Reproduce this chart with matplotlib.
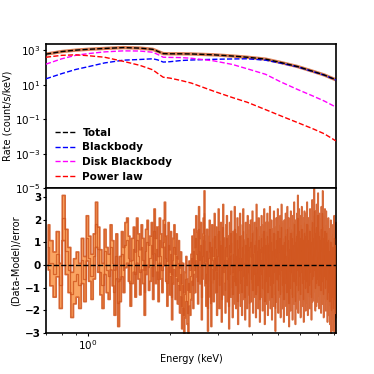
"""Spectral fit: model components (top) and residuals (bottom)."""

import numpy as np
import matplotlib
matplotlib.use("Agg")
import matplotlib.pyplot as plt
from matplotlib.ticker import FixedLocator, NullLocator

plt.rcParams["mathtext.default"] = "bf"

# model curves (log10 of count/s/keV)
E_MODEL = [0.70, 0.80, 0.90, 1.00, 1.15, 1.35, 1.55, 1.73, 1.80, 1.89, 2.00,
           2.20, 2.40, 2.90, 3.40, 3.85, 4.50, 5.10, 5.90, 6.70, 7.40, 8.16]
LOG_TOTAL = [2.77, 2.92, 3.00, 3.05, 3.10, 3.15, 3.12, 3.05, 2.94, 2.80, 2.79,
             2.79, 2.78, 2.73, 2.66, 2.59, 2.48, 2.29, 2.05, 1.78, 1.56, 1.28]
LOG_BB = [1.34, 1.64, 1.88, 2.04, 2.26, 2.42, 2.46, 2.50, 2.44, 2.31, 2.33,
          2.40, 2.43, 2.47, 2.49, 2.50, 2.42, 2.25, 2.03, 1.76, 1.55, 1.27]
LOG_DISK = [2.19, 2.50, 2.70, 2.80, 2.90, 2.96, 2.95, 2.88, 2.76, 2.59, 2.58,
            2.57, 2.53, 2.38, 2.17, 1.92, 1.60, 1.17, 0.72, 0.35, 0.05, -0.30]
LOG_PL = [2.59, 2.70, 2.73, 2.68, 2.59, 2.35, 2.12, 1.86, 1.66, 1.43, 1.38,
          1.24, 1.09, 0.62, 0.25, -0.02, -0.45, -0.80, -1.20, -1.55, -1.85, -2.26]

# residual channels: 0.02 keV bins starting at 0.70 keV
E_START = 0.70
E_BIN = 0.02
RESID = [
    0.8, 0.1, -0.4, 0.5, -0.9, 2.1, 0.6, -0.2, -1.3, -0.7,
    -0.4, -0.9, 0.2, -0.6, 1.2, 0.3, -0.5, 0.4, 1.8, 0.7,
    -0.3, -0.9, 0.6, -0.2, -0.5, 0.8, 0.1, -1.2, 0.4, -1.7,
    -0.6, 0.5, -0.2, 0.9, 1.1, 0.3, -0.8, 0.2, 0.7, -0.4,
    1.1, 0.4, -0.3, 0.8, 0.2, -1.2, 0.6, 1.0, -0.1, 0.3,
    0.9, -0.5, 1.5, 0.2, 0.7, -0.6, 1.1, 0.4, -0.2, 1.0,
    1.8, 0.3, -0.8, 0.9, -0.3, 0.5, -1.4, 0.2, 0.8, -0.5,
    0.4, -0.7, 0.1, -1.1, -0.4, -1.8, -0.9, -2.2, -1.3, -0.6,
    -1.6, -2.1, -0.8, -1.2, -0.5, 0.3, -0.9, 0.6, -0.2, 1.2,
    0.5, -0.7, 1.6, 0.2, 0.9, -1.4, 0.4, 1.1, 2.3, 0.1,
    -0.8, 0.6, -1.9, 0.3, 1.0, -0.4, -1.7, 0.8, 0.2, -0.6,
    1.3, -0.2, 0.7, -1.2, 0.4, 1.5, -0.9, 0.1, 0.9, -1.5,
    0.6, 1.7, -0.3, 0.2, -1.1, 0.8, 1.2, -0.6, 0.3, -1.8,
    0.9, -0.4, 1.4, 0.0, -1.3, 0.5, -0.7, 1.6, 0.2, -0.9,
    0.4, 1.1, -1.6, 0.7, -0.2, 1.3, -0.8, 0.3, -1.2, 0.8,
    1.5, -0.5, 0.1, -1.4, 0.9, 0.4, -0.9, 1.2, -0.3, 0.6,
    -1.7, 0.8, 1.0, -0.6, 0.2, 1.4, -1.1, 0.5, -0.4, 0.9,
    0.1, -1.3, 1.7, -0.2, 0.6, -0.9, 1.1, 0.3, -1.5, 0.7,
    -0.4, 1.2, 0.4, -1.0, 0.8, -0.1, 1.5, -1.6, 0.2, 0.9,
    -0.7, 0.5, 1.3, -1.2, 0.0, 0.9, -0.5, 1.6, -0.9, 0.3,
    1.0, -1.4, 0.6, 0.2, -0.8, 1.4, -0.3, 0.7, -1.9, 0.4,
    1.1, -0.6, 0.3, 1.5, -1.1, 0.1, 0.8, -0.4, 1.2, -1.3,
    0.5, 1.7, -0.2, -0.9, 0.9, 0.2, -1.5, 1.0, -0.5, 0.6,
    1.3, -0.8, 0.4, -1.2, 1.6, 0.0, -0.6, 1.1, -1.7, 0.7,
    0.3, -1.0, 1.4, 0.6, -0.3, 1.2, -1.4, 0.5, 0.9, -0.7,
    1.8, -0.4, 0.2, -1.6, 1.0, 0.4, -0.9, 1.3, -0.2, 2.1,
    -1.1, 0.7, 1.5, -0.5, 0.1, 1.2, -1.3, 0.8, -0.3, 1.6,
    0.4, -0.8, 1.1, 0.2, -1.5, 0.9, 1.4, -0.6, 0.5, -1.0,
    1.3, 0.0, -0.7, 1.8, 0.3, -1.2, 0.8, 1.1, -0.4, 0.6,
    -0.9, 1.5, 0.2, -0.3, 1.0, -1.4, 0.7, 1.9, -0.6, 0.4,
    1.2, -0.5, 0.9, 2.4, -0.2, 0.6, -1.0, 1.4, 0.3, -0.8,
    1.7, 0.1, -0.6, 1.0, 2.2, -0.4, 0.8, -0.9, 1.3, 0.5,
    -0.3, 1.1, 0.6, -1.1, 1.6, 0.2, -0.7, 0.9, 2.3, -0.2,
    0.7, -1.3, 1.2, 0.4, -0.5, 1.5, 0.0, -1.0, 0.8, 1.4,
    -0.6, 0.3, 1.0, -1.5, 0.5, -0.2, 1.1, -1.2, 0.2, -0.8,
    0.6, -1.6, 0.1, -0.9, 1.0, -2.0, 0.3, -0.5, -1.4, 0.4,
    -1.1, 0.8, -1.9, 0.2, -0.7, 1.2, -1.5, -0.3, 0.5, -2.1,
    -0.6, 0.9, -1.3,
]

DATA_LIGHT = "#FA9446"
DATA_DARK = "#D0541D"


def main():
    e_mod = np.array(E_MODEL)
    resid = np.array(RESID)
    e_res = E_START + E_BIN * (np.arange(len(resid)) + 0.5)

    fig = plt.figure(figsize=(3.74, 3.74), dpi=100)
    ax1 = fig.add_axes([0.123, 0.497, 0.775, 0.385])
    ax2 = fig.add_axes([0.123, 0.110, 0.775, 0.387], sharex=ax1)

    # top: data (under the total) and model components
    ax1.plot(e_mod, 10 ** np.array(LOG_TOTAL), color=DATA_DARK, lw=2.4,
             alpha=0.75, solid_capstyle="butt", zorder=1)
    ax1.plot(e_mod, 10 ** np.array(LOG_TOTAL), "--", color="black", lw=1.0,
             label="Total", zorder=4)
    ax1.plot(e_mod, 10 ** np.array(LOG_BB), "--", color="blue", lw=1.0,
             label="Blackbody", zorder=3)
    ax1.plot(e_mod, 10 ** np.array(LOG_DISK), "--", color="magenta", lw=1.0,
             label="Disk Blackbody", zorder=3)
    ax1.plot(e_mod, 10 ** np.array(LOG_PL), "--", color="red", lw=1.0,
             label="Power law", zorder=3)

    ax1.set_xscale("log")
    ax1.set_yscale("log")
    ax1.set_xlim(0.70, 8.16)
    ax1.set_ylim(1e-5, 10 ** 3.35)
    ax1.yaxis.set_major_locator(FixedLocator([1e-5, 1e-3, 1e-1, 1e1, 1e3]))
    ax1.yaxis.set_minor_locator(NullLocator())
    ax1.tick_params(axis="x", which="both", bottom=False, labelbottom=False)
    ax1.tick_params(axis="y", labelsize=7.5, length=2.5, pad=1.5)
    ax1.set_ylabel("Rate (count/s/keV)", fontsize=7, labelpad=1.5)

    ax1.legend(loc="lower left", frameon=False, handlelength=2.0,
               handletextpad=0.6, labelspacing=0.45,
               bbox_to_anchor=(0.0, -0.02),
               prop={"weight": "bold", "size": 7.5})

    # bottom: residuals with +-1 error band and the residual steps
    ax2.fill_between(e_res, resid - 1, resid + 1, step="mid",
                     facecolor=DATA_LIGHT, edgecolor=DATA_DARK,
                     linewidth=1.2, alpha=0.85, zorder=2)
    ax2.step(e_res, resid, where="mid", color=DATA_DARK, lw=0.9,
             alpha=0.8, zorder=3)
    ax2.axhline(0, color="black", linestyle="--", lw=1.0, zorder=4)
    ax2.set_ylim(-3, 3.4)
    ax2.set_yticks([-3, -2, -1, 0, 1, 2, 3])
    ax2.set_xlabel("Energy (keV)", fontsize=7, labelpad=2)
    ax2.set_ylabel("(Data-Model)/error", fontsize=7, labelpad=3)
    ax2.tick_params(axis="both", which="major", labelsize=7.5, length=2.5, pad=1)
    ax2.tick_params(axis="x", which="minor", length=1.5)
    for lab in ax2.get_yticklabels():
        lab.set_fontweight("bold")

    for ax in (ax1, ax2):
        for s in ax.spines.values():
            s.set_linewidth(1.2)

    fig.savefig("out.png", dpi=100, facecolor="white")


if __name__ == "__main__":
    main()
